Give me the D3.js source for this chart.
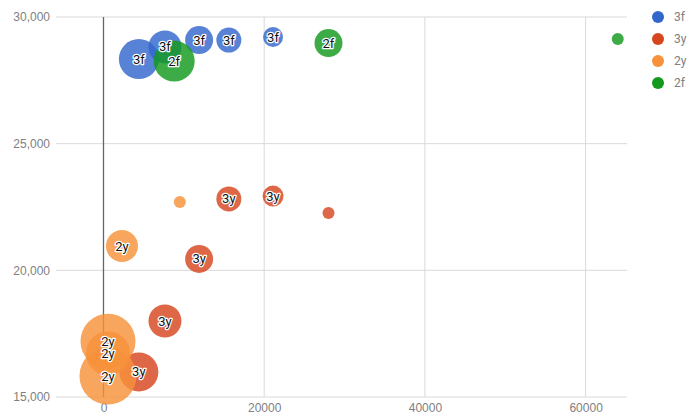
<!DOCTYPE html>
<html>
<head>
<meta charset="utf-8">
<script src="https://cdn.jsdelivr.net/npm/d3@7"></script>
<style>
  body { margin: 0; background: #fff; }
  svg { font-family: Roboto, "Noto Sans", sans-serif; }
</style>
</head>
<body>
<div id="chart"></div>
<script>
// bubble data per series: x, y, size
const seriesNames = ["3f", "3y", "2y", "2f"];
const seriesColors = ["#3366cc", "#d6461f", "#f7913a", "#139a1d"];

const x3f = [4400, 7650, 11900, 15600, 21100];
const y3f = [28340, 28820, 29090, 29090, 29210];
const s3f = [40, 33, 28, 25, 20];

const x3y = [4400, 7650, 11900, 15600, 21100, 28000];
const y3y = [15990, 18000, 20450, 22820, 22930, 22260];
const s3y = [39, 33, 28, 25, 21, 12];

const x2y = [560, 560, 560, 2300, 9500];
const y2y = [17200, 16720, 15830, 20960, 22700];
const s2y = [55, 44, 57, 32, 12];

const x2f = [8800, 28000, 64000];
const y2f = [28260, 28970, 29130];
const s2f = [41, 28, 12];

const xTicks = [0, 20000, 40000, 60000];
const yTicks = [15000, 20000, 25000, 30000];

const seriesData = [
  [x3f, y3f, s3f],
  [x3y, y3y, s3y],
  [x2y, y2y, s2y],
  [x2f, y2f, s2f]
];

const points = [];
seriesData.forEach((s, i) => {
  s[0].forEach((v, j) => {
    points.push({ series: seriesNames[i], color: seriesColors[i], x: v, y: s[1][j], size: s[2][j] });
  });
});

const W = 700, H = 414;
const margin = { top: 17, right: 73, bottom: 17, left: 56 };
const width = W - margin.left - margin.right;
const height = H - margin.top - margin.bottom;

const svg = d3.select("#chart").append("svg")
  .attr("width", W).attr("height", H);

const g = svg.append("g")
  .attr("transform", `translate(${margin.left},${margin.top})`);

const x = d3.scaleLinear().domain([-5910, 65150]).range([0, width]);
const y = d3.scaleLinear().domain([15000, 30000]).range([height, 0]);
const r = d3.scaleLinear().domain([0, 60]).range([0, 30]);

// gridlines
g.append("g")
  .selectAll("line.hgrid")
  .data(yTicks)
  .enter().append("line")
  .attr("x1", 0).attr("x2", width)
  .attr("y1", d => y(d)).attr("y2", d => y(d))
  .attr("stroke", "#d9d9d9");

g.append("g")
  .selectAll("line.vgrid")
  .data(xTicks.filter(d => d !== 0))
  .enter().append("line")
  .attr("x1", d => x(d)).attr("x2", d => x(d))
  .attr("y1", 0).attr("y2", height)
  .attr("stroke", "#d9d9d9");

// zero baseline
g.append("line")
  .attr("x1", x(0)).attr("x2", x(0))
  .attr("y1", 0).attr("y2", height)
  .attr("stroke", "#666")
  .attr("stroke-width", 1.3);

// axes
const yAxis = g.append("g")
  .call(d3.axisLeft(y).tickValues(yTicks).tickFormat(d3.format(",")).tickSize(0).tickPadding(6));
yAxis.select(".domain").remove();
yAxis.selectAll("text").attr("fill", "#808080").style("font-size", "12px");

const xAxis = g.append("g")
  .attr("transform", `translate(0,${height})`)
  .call(d3.axisBottom(x).tickValues(xTicks).tickFormat(d3.format("d")).tickSize(0).tickPadding(6));
xAxis.select(".domain").remove();
xAxis.selectAll("text").attr("fill", "#808080").style("font-size", "12px");

// bubbles
g.append("g")
  .selectAll("circle")
  .data(points)
  .enter().append("circle")
  .attr("cx", d => x(d.x))
  .attr("cy", d => y(d.y))
  .attr("r", d => r(d.size))
  .attr("fill", d => d.color)
  .attr("fill-opacity", 0.82);

// bubble labels (white halo)
g.append("g")
  .selectAll("text")
  .data(points.filter(d => r(d.size) >= 9))
  .enter().append("text")
  .attr("x", d => x(d.x))
  .attr("y", d => y(d.y))
  .attr("dy", "0.35em")
  .attr("text-anchor", "middle")
  .style("font-size", "13px")
  .attr("fill", "#111")
  .attr("stroke", "#fff")
  .attr("stroke-width", 2.5)
  .attr("stroke-linejoin", "round")
  .attr("paint-order", "stroke")
  .text(d => d.series);

// legend
const legend = svg.append("g")
  .attr("transform", `translate(658, 17)`);

seriesNames.forEach((name, i) => {
  const lg = legend.append("g").attr("transform", `translate(0, ${i * 22})`);
  lg.append("circle").attr("r", 6).attr("fill", seriesColors[i]);
  lg.append("text")
    .attr("x", 16).attr("dy", "0.35em")
    .style("font-size", "12px")
    .attr("fill", "#808080")
    .text(name);
});
</script>
</body>
</html>
